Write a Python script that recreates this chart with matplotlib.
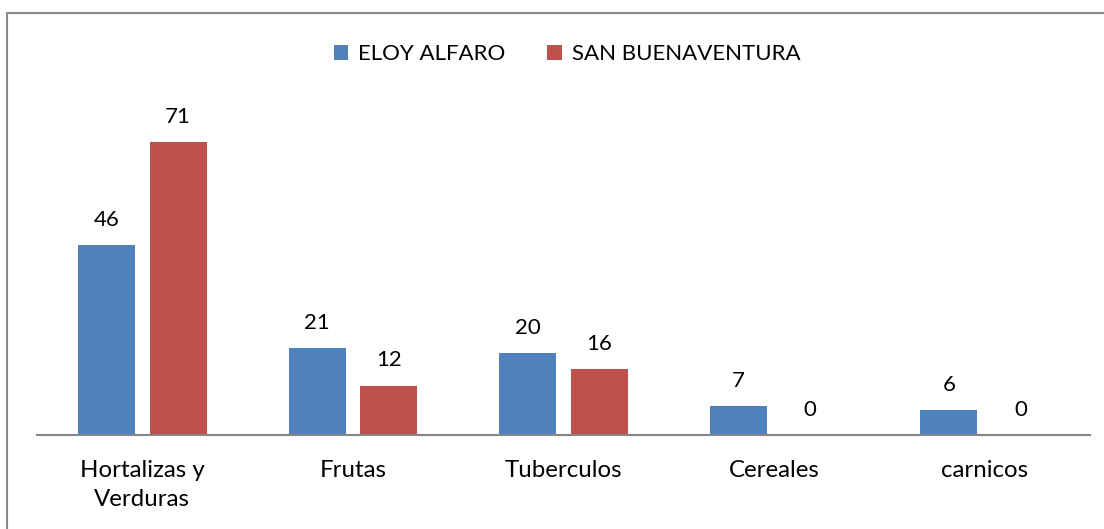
import matplotlib.pyplot as plt
from matplotlib.patches import Rectangle
import numpy as np

plt.rcParams['font.family'] = ['Lato', 'DejaVu Sans']

categories = ["Hortalizas y\nVerduras", "Frutas", "Tuberculos", "Cereales", "carnicos"]
eloy_alfaro = [46, 21, 20, 7, 6]
san_buenaventura = [71, 12, 16, 0, 0]
series_names = ["ELOY ALFARO", "SAN BUENAVENTURA"]
colors = ["#4F81BD", "#C0504D"]

W, H = 1104, 529
fig = plt.figure(figsize=(W / 100, H / 100), dpi=100)
ax = fig.add_axes([37 / W, (H - 435) / H, (1090 - 37) / W, 330 / H])

x = np.arange(len(categories))
width = 0.27
offset = 0.17
for vals, off, col, name in zip([eloy_alfaro, san_buenaventura], [-offset, offset], colors, series_names):
    bars = ax.bar(x + off, vals, width, color=col, label=name)
    for b, v in zip(bars, vals):
        ax.annotate(str(v), (b.get_x() + b.get_width() / 2, v), xytext=(0, 18),
                    textcoords="offset points", ha="center", va="center", fontsize=16)

ax.set_xlim(-0.5, len(categories) - 0.5)
ax.set_ylim(0, 80)
ax.set_xticks(x)
ax.set_xticklabels(categories, fontsize=17.3, linespacing=1.5)
ax.tick_params(axis="x", length=0, pad=18)
ax.set_yticks([])
for s in ["top", "left", "right"]:
    ax.spines[s].set_visible(False)
ax.spines["bottom"].set_color("#868686")
ax.spines["bottom"].set_linewidth(1.5)

leg = fig.legend(loc="center", bbox_to_anchor=(567 / W, 1 - 54 / H), ncol=2, frameon=False,
                 fontsize=16, handlelength=0.65, handleheight=0.65, handletextpad=0.45, columnspacing=1.9)

fig.patches.append(Rectangle((7 / W, -0.01), 1.1, 1 - 13 / H + 0.01, transform=fig.transFigure,
                             fill=False, edgecolor="#888888", linewidth=1.5))

fig.savefig("out.png", dpi=100)
